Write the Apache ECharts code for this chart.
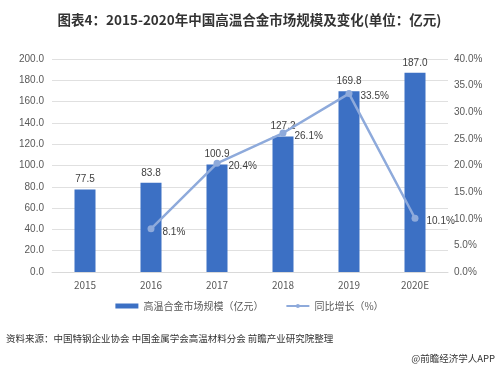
<!DOCTYPE html>
<html><head><meta charset="utf-8">
<script src="https://cdn.jsdelivr.net/npm/echarts@6/dist/echarts.min.js"></script>
<style>html,body{margin:0;padding:0;background:#fff}#c{width:499px;height:371px}</style>
</head><body><div id="c"></div>
<script>
var categories = ['2015','2016','2017','2018','2019','2020E'];
var marketSize = [77.5, 83.8, 100.9, 127.2, 169.8, 187.0];
var growth = [null, 8.1, 20.4, 26.1, 33.5, 10.1];
var leftTicks = [0, 200, 20];
var rightTicks = [0, 40, 5];
var chart = echarts.init(document.getElementById('c'));
var fontCJK = '"Microsoft YaHei","Noto Sans CJK SC",sans-serif';
chart.setOption({
  animation:false,
  title:{text:'图表4：2015-2020年中国高温合金市场规模及变化(单位：亿元)',left:'center',top:8,
    textStyle:{fontSize:13.5,fontWeight:'bold',color:'#333',fontFamily:fontCJK}},
  grid:{left:52,right:51,top:59,bottom:99},
  legend:{bottom:55,left:'center',itemGap:22,itemWidth:23,itemHeight:5,
    textStyle:{fontSize:10,color:'#595959',fontFamily:fontCJK},
    data:[{name:'高温合金市场规模（亿元）',icon:'rect'},{name:'同比增长（%）'}]},
  xAxis:{type:'category',data:categories,axisTick:{show:false},
    axisLine:{lineStyle:{color:'#d9d9d9'}},
    axisLabel:{fontSize:10,color:'#595959',margin:8,fontFamily:fontCJK}},
  yAxis:[{type:'value',min:leftTicks[0],max:leftTicks[1],interval:leftTicks[2],
    axisLabel:{formatter:function(v){return v.toFixed(1);},fontSize:10,color:'#595959',margin:8},
    splitLine:{lineStyle:{color:'#e0e0e0'}},axisLine:{show:false},axisTick:{show:false}},
   {type:'value',min:rightTicks[0],max:rightTicks[1],interval:rightTicks[2],
    axisLabel:{formatter:function(v){return v.toFixed(1)+'%';},fontSize:10,color:'#595959',margin:6},
    splitLine:{show:false},axisLine:{show:false},axisTick:{show:false}},],
  series:[{name:'高温合金市场规模（亿元）',type:'bar',data:marketSize,barWidth:21,
    itemStyle:{color:'#3c70c4'},
    label:{show:true,position:'top',fontSize:10,color:'#404040',distance:5,
      formatter:function(p){return p.value.toFixed(1);}}},
   {name:'同比增长（%）',type:'line',yAxisIndex:1,data:growth,connectNulls:false,
    symbol:'circle',symbolSize:7,lineStyle:{color:'#8eaadb',width:2.5},itemStyle:{color:'#8eaadb'},
    label:{show:true,position:'right',fontSize:10,color:'#404040',distance:8,offset:[0,3],
      formatter:function(p){return p.value==null?'':p.value.toFixed(1)+'%';}}}],
  graphic:[{type:'text',left:6,top:334,style:{text:'资料来源：中国特钢企业协会 中国金属学会高温材料分会 前瞻产业研究院整理',
      fill:'#333',font:'9.5px '+fontCJK}},
    {type:'text',right:4,top:354,style:{text:'@前瞻经济学人APP',fill:'#333',font:'9.5px '+fontCJK}}]
});
</script></body></html>
